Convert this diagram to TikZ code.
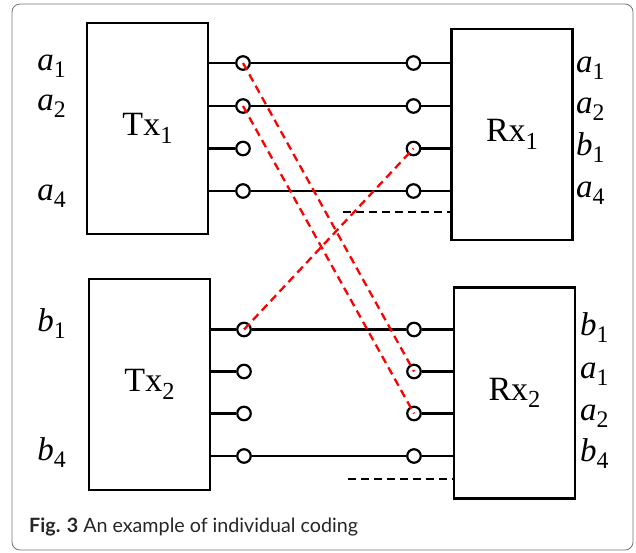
\documentclass[tikz,border=0pt]{standalone}
\usepackage{fontspec}
\setmainfont{Liberation Serif}
\newfontfamily\capfont{Lato}
\newcommand{\low}[1]{\raisebox{-0.22em}{\scalebox{0.72}{#1}}}
\newcommand{\sig}[2]{\textit{#1}\low{#2}}

\begin{document}
\begin{tikzpicture}[x=1pt, y=-1pt,
    blk/.style={draw, line width=2.2pt, minimum width=121pt, minimum height=211pt, inner sep=0pt, font=\fontsize{34}{34}\selectfont},
    port/.style={circle, draw, fill=white, line width=2.2pt, minimum size=13.5pt, inner sep=0pt},
    wire/.style={line width=2.2pt},
    cross/.style={red, line width=2.3pt, dash pattern=on 8pt off 5pt},
    gap/.style={line width=2.2pt, dash pattern=on 8pt off 5pt},
    lbl/.style={inner sep=0pt, font=\fontsize{33}{33}\selectfont}]
    \useasboundingbox (0,0) rectangle (636,552);

    % frame
    \draw[black!55, line width=0.8pt, rounded corners=8pt] (12,4) rectangle (633,550);

    % boxes
    \node[blk] (Tx1) at (147.5,128.5) {Tx\low{1}};
    \node[blk] (Rx1) at (512,134.5) {Rx\low{1}};
    \node[blk] (Tx2) at (149.5,384.5) {Tx\low{2}};
    \node[blk] (Rx2) at (514.5,393) {Rx\low{2}};

    % ports
    \node[port] (TA1) at (243,63) {};
    \node[port] (TA2) at (243,106) {};
    \node[port] (TA3) at (243,148.5) {};
    \node[port] (TA4) at (243,191) {};
    \node[port] (RA1) at (413.5,63) {};
    \node[port] (RA2) at (413.5,106) {};
    \node[port] (RA3) at (413.5,148.5) {};
    \node[port] (RA4) at (413.5,191) {};

    \node[port] (TB1) at (244,329.5) {};
    \node[port] (TB2) at (244,371.5) {};
    \node[port] (TB3) at (244,413.5) {};
    \node[port] (TB4) at (244,456) {};
    \node[port] (RB1) at (414,329.5) {};
    \node[port] (RB2) at (414,371.5) {};
    \node[port] (RB3) at (414,413.5) {};
    \node[port] (RB4) at (414,456) {};

    % stubs
    \foreach \i in {1,...,4} {
        \draw[wire] (Tx1.east |- TA\i) -- (TA\i);
        \draw[wire] (RA\i) -- (Rx1.west |- RA\i);
        \draw[wire] (Tx2.east |- TB\i) -- (TB\i);
        \draw[wire] (RB\i) -- (Rx2.west |- RB\i);
    }

    % straight links
    \draw[wire] (TA1) -- (RA1);
    \draw[wire] (TA2) -- (RA2);
    \draw[wire] (TA4) -- (RA4);
    \draw[wire] (TB1) -- (RB1);
    \draw[wire] (TB4) -- (RB4);

    % crossed links
    \draw[cross] (TA1.center) -- (RB2.center);
    \draw[cross] (TA2.center) -- (RB3.center);
    \draw[cross] (TB1.center) -- (RA3.center);

    % dashed inputs
    \coordinate (G1) at (343,212);
    \coordinate (G2) at (348,479);
    \draw[gap] (G1) -- (Rx1.west |- G1);
    \draw[gap] (G2) -- (Rx2.west |- G2);

    % left labels
    \node[lbl, anchor=base east] (la1) at (66,70) {\sig{a}{1}};
    \node[lbl, anchor=base east] (la2) at (66,110) {\sig{a}{2}};
    \node[lbl, anchor=base east] (la4) at (66,200) {\sig{a}{4}};
    \node[lbl, anchor=base east] (lb1) at (66,331) {\sig{b}{1}};
    \node[lbl, anchor=base east] (lb4) at (66,460) {\sig{b}{4}};

    % right labels
    \node[lbl, anchor=base west] (ra1) at (576,72) {\sig{a}{1}};
    \node[lbl, anchor=base west] (ra2) at (576,113) {\sig{a}{2}};
    \node[lbl, anchor=base west] (rb1) at (576,155) {\sig{b}{1}};
    \node[lbl, anchor=base west] (ra4) at (576,197) {\sig{a}{4}};
    \node[lbl, anchor=base west] (sb1) at (580,335) {\sig{b}{1}};
    \node[lbl, anchor=base west] (sa1) at (580,378) {\sig{a}{1}};
    \node[lbl, anchor=base west] (sa2) at (580,420) {\sig{a}{2}};
    \node[lbl, anchor=base west] (sb4) at (580,461) {\sig{b}{4}};

    % caption
    \node[anchor=base west, inner sep=0pt, text=black!85, font=\capfont\fontsize{19.7}{19.7}\selectfont] (cap) at (29,532)
        {\textbf{Fig. 3} An example of individual coding};
\end{tikzpicture}
\end{document}
